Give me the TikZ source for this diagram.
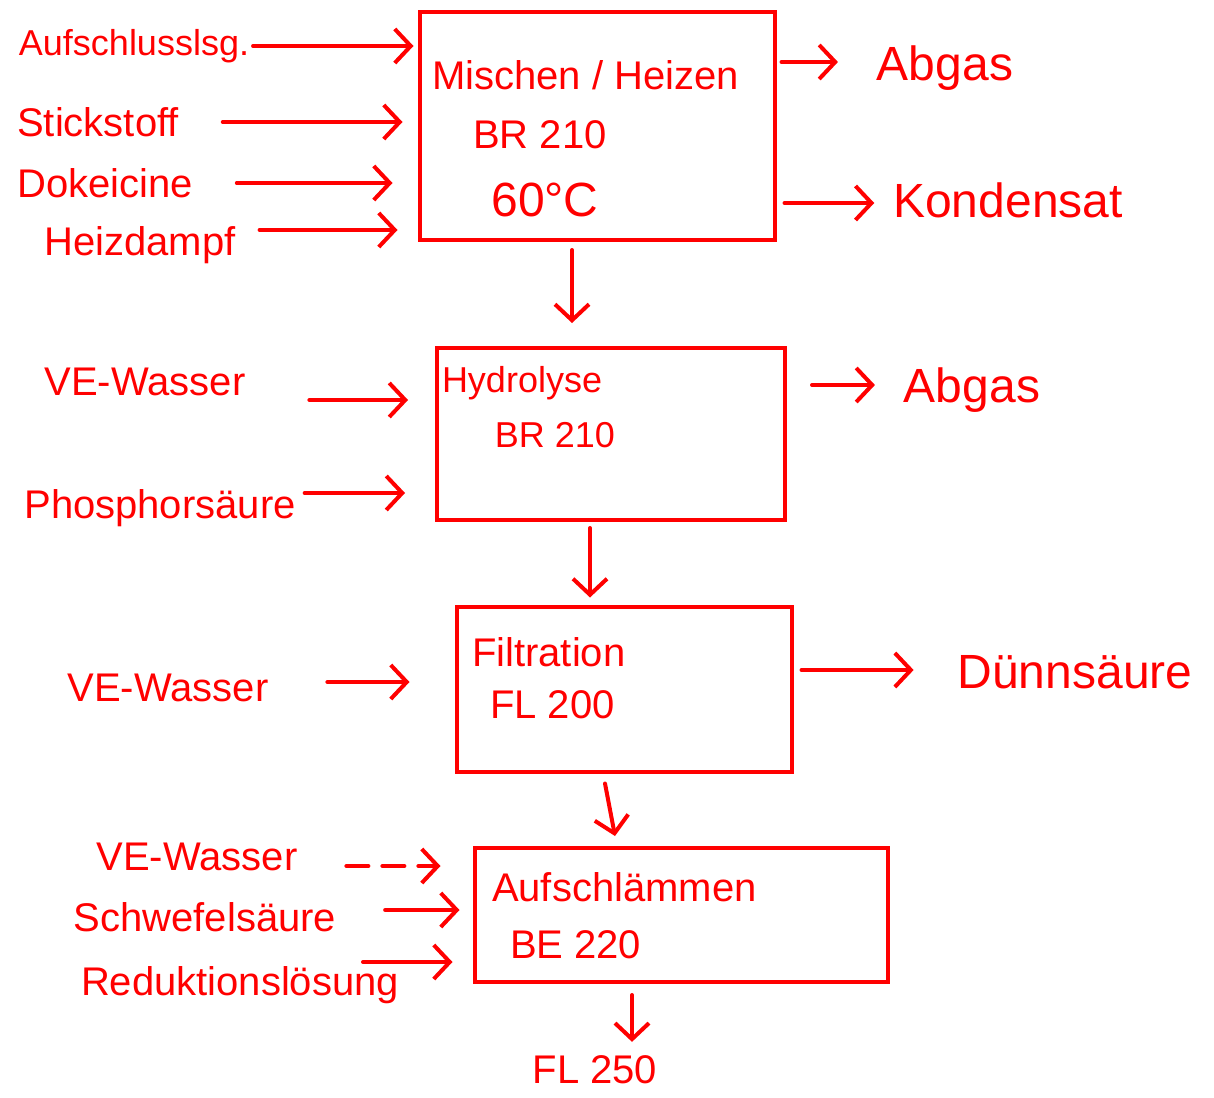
\documentclass[tikz,border=0pt]{standalone}
\usepackage{fontspec}
\setmainfont{Liberation Sans}
\usetikzlibrary{arrows.meta}

\begin{document}
\begin{tikzpicture}
	[x=1pt, y=-1pt, line width=4pt, red,
	 box/.style = {draw, rectangle, inner sep=0pt},
	 lbl/.style = {text=red, inner sep=2pt, font=\fontsize{40}{44}\selectfont},
	 big/.style = {lbl, font=\fontsize{48}{52}\selectfont},
	 small/.style = {lbl, font=\fontsize{36}{40}\selectfont},
	 flow/.style = {-{Straight Barb[length=16pt,width=34pt]}, line cap=round}]
	\useasboundingbox (0,0) rectangle (1214,1097);
	% boxes
	\node[box, minimum width=355, minimum height=228] (mix) at (597,126) {};
	\node[box, minimum width=348, minimum height=172] (hyd) at (611,434) {};
	\node[box, minimum width=335, minimum height=165] (fil) at (624,689) {};
	\node[box, minimum width=413, minimum height=134] (aus) at (681,915) {};
	% box texts
	\node[lbl, anchor=west] (mixt) at (428,75) {Mischen / Heizen};
	\node[lbl] (mixbr) at (540,135) {BR 210};
	\node[big] (mixtemp) at (545,200) {60°C};
	\node[small, anchor=west] (hydt) at (438,383) {Hydrolyse};
	\node[small] (hydbr) at (555,435) {BR 210};
	\node[lbl, anchor=west] (filt) at (468,652) {Filtration};
	\node[lbl, anchor=west] (filfl) at (486,705) {FL 200};
	\node[lbl, anchor=west] (aust) at (488,887) {Aufschlämmen};
	\node[lbl, anchor=west] (ausbe) at (506,945) {BE 220};
	% inputs
	\node[small] (in1) at (134,46) {Aufschlusslsg.};
	\node[lbl] (in2) at (98,122) {Stickstoff};
	\node[lbl] (in3) at (105,183) {Dokeicine};
	\node[lbl] (in4) at (140,245) {Heizdampf};
	\node[lbl] (in5) at (145,382) {VE-Wasser};
	\node[lbl] (in6) at (160,508) {Phosphorsäure};
	\node[lbl] (in7) at (168,688) {VE-Wasser};
	\node[lbl] (in8) at (197,857) {VE-Wasser};
	\node[lbl] (in9) at (205,917) {Schwefelsäure};
	\node[lbl] (in10) at (240,985) {Reduktionslösung};
	% outputs
	\node[big] (out1) at (945,68) {Abgas};
	\node[big] (out2) at (1008,200) {Kondensat};
	\node[big] (out3) at (972,390) {Abgas};
	\node[big] (out4) at (1075,672) {Dünnsäure};
	\node[lbl] (fl) at (595,1070) {FL 250};
	% feeds
	\draw[flow] (in1.east) -- ([xshift=-4pt]in1.east -| mix.west);
	\draw[flow] ([xshift=40pt]in2.east) -- ([xshift=-15pt]in2.east -| mix.west);
	\draw[flow] ([xshift=40pt]in3.east) -- ([xshift=-25pt]in3.east -| mix.west);
	\draw[flow] ([xshift=20pt,yshift=15pt]in4.east) -- ([xshift=-20pt,yshift=15pt]in4.east -| mix.west);
	\draw[flow] ([xshift=60pt,yshift=-18pt]in5.east) -- ([xshift=-27pt,yshift=-18pt]in5.east -| hyd.west);
	\draw[flow] ([xshift=5pt,yshift=15pt]in6.east) -- ([xshift=-30pt,yshift=15pt]in6.east -| hyd.west);
	\draw[flow] ([xshift=55pt,yshift=6pt]in7.east) -- ([xshift=-45pt,yshift=6pt]in7.east -| fil.west);
	\draw[flow, dash pattern=on 22pt off 14pt] ([xshift=45pt,yshift=-9pt]in8.east) -- ([xshift=-32pt,yshift=-9pt]in8.east -| aus.west);
	\draw[flow] ([xshift=45pt,yshift=7pt]in9.east) -- ([xshift=-13pt,yshift=7pt]in9.east -| aus.west);
	\draw[flow] ([xshift=-40pt,yshift=23pt]in10.east) -- ([xshift=-20pt,yshift=23pt]in10.east -| aus.west);
	% products
	\draw[flow] ([xshift=5pt,yshift=6pt]out1.west -| mix.east) -- ([xshift=-35pt,yshift=6pt]out1.west);
	\draw[flow] ([xshift=8pt,yshift=-3pt]out2.west -| mix.east) -- ([xshift=-15pt,yshift=-3pt]out2.west);
	\draw[flow] ([xshift=25pt,yshift=5pt]out3.west -| hyd.east) -- ([xshift=-25pt,yshift=5pt]out3.west);
	\draw[flow] ([xshift=8pt,yshift=2pt]out4.west -| fil.east) -- ([xshift=-40pt,yshift=2pt]out4.west);
	% main line
	\draw[flow] ([xshift=-25pt,yshift=-8pt]mix.south) -- ([xshift=-39pt,yshift=23pt]hyd.north);
	\draw[flow] ([xshift=-21pt,yshift=-6pt]hyd.south) -- ([xshift=-34pt,yshift=7pt]fil.north);
	\draw[flow] ([xshift=-19pt,yshift=-10pt]fil.south) -- ([xshift=-66pt,yshift=10pt]aus.north);
	\draw[flow] ([xshift=-49pt,yshift=-11pt]aus.south) -- ([xshift=37pt,yshift=10pt]fl.north);
\end{tikzpicture}
\end{document}
